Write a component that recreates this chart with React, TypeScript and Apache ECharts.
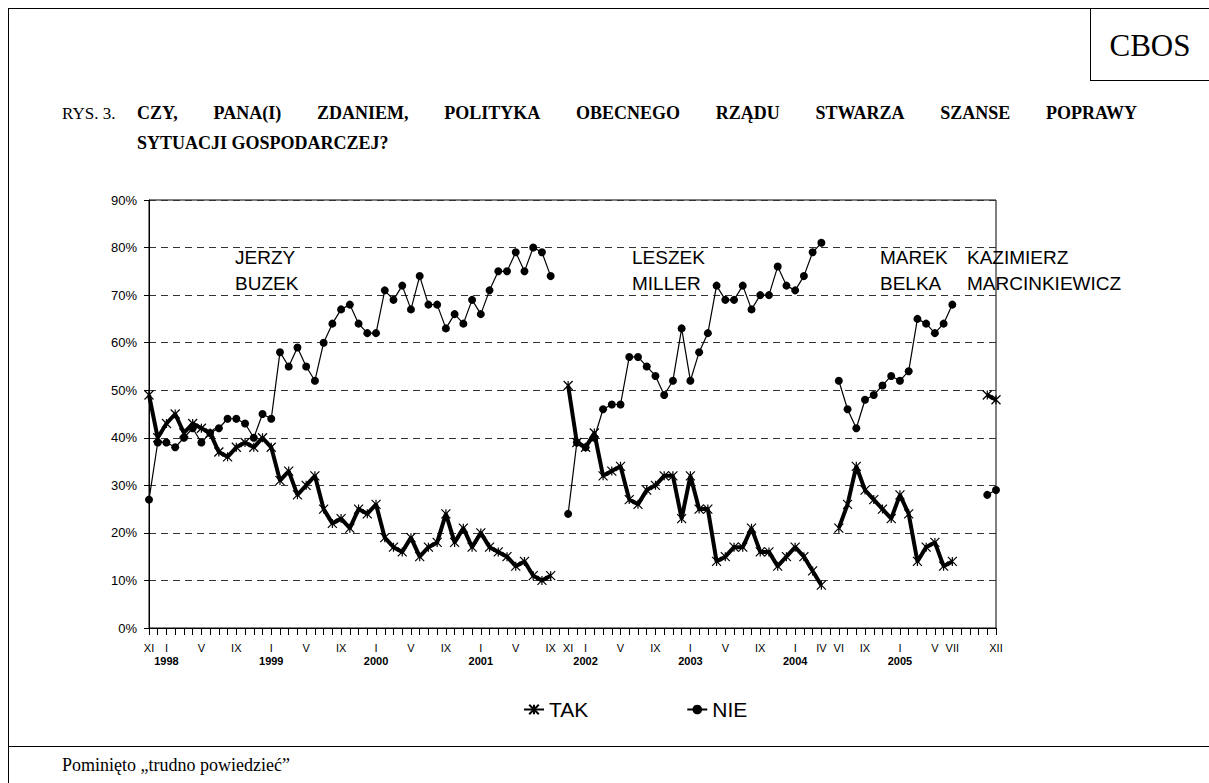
import React, { useEffect, useRef } from "react";
import * as echarts from "echarts";

// ---- data ----
const ROMAN = ["I", "II", "III", "IV", "V", "VI", "VII", "VIII", "IX", "X", "XI", "XII"];

// monthly categories XI 1997 .. XII 2005
const categories: string[] = [];
for (let y = 1997; y <= 2005; y++) {
  for (let m = 1; m <= 12; m++) {
    if (y === 1997 && m < 11) continue;
    categories.push(`${y}-${String(m).padStart(2, "0")}`);
  }
}

const labeledMonths = [
  "1997-11", "1998-01", "1998-05", "1998-09", "1999-01", "1999-05", "1999-09",
  "2000-01", "2000-05", "2000-09", "2001-01", "2001-05", "2001-09", "2001-11",
  "2002-01", "2002-05", "2002-09", "2003-01", "2003-05", "2003-09", "2004-01",
  "2004-04", "2004-06", "2004-09", "2005-01", "2005-05", "2005-07", "2005-12",
];

const yTicks = [0, 10, 20, 30, 40, 50, 60, 70, 80, 90];

// TAK (yes) – Buzek XI 1997..IX 2001, Miller XI 2001..IV 2004, Belka VI 2004..VII 2005, Marcinkiewicz XI-XII 2005
const takBuzek = [49, 40, 43, 45, 41, 43, 42, 41, 37, 36, 38, 39, 38, 40, 38, 31, 33, 28, 30, 32, 25, 22, 23, 21, 25, 24, 26, 19, 17, 16, 19, 15, 17, 18, 24, 18, 21, 17, 20, 17, 16, 15, 13, 14, 11, 10, 11];
const takMiller = [51, 39, 38, 41, 32, 33, 34, 27, 26, 29, 30, 32, 32, 23, 32, 25, 25, 14, 15, 17, 17, 21, 16, 16, 13, 15, 17, 15, 12, 9];
const takBelka = [21, 26, 34, 29, 27, 25, 23, 28, 24, 14, 17, 18, 13, 14];
const takMarcinkiewicz = [49, 48];

const nieBuzek = [27, 39, 39, 38, 40, 42, 39, 41, 42, 44, 44, 43, 40, 45, 44, 58, 55, 59, 55, 52, 60, 64, 67, 68, 64, 62, 62, 71, 69, 72, 67, 74, 68, 68, 63, 66, 64, 69, 66, 71, 75, 75, 79, 75, 80, 79, 74];
const nieMiller = [24, 39, 38, 40, 46, 47, 47, 57, 57, 55, 53, 49, 52, 63, 52, 58, 62, 72, 69, 69, 72, 67, 70, 70, 76, 72, 71, 74, 79, 81];
const nieBelka = [52, 46, 42, 48, 49, 51, 53, 52, 54, 65, 64, 62, 64, 68];
const nieMarcinkiewicz = [28, 29];

// gaps between governments (months without data)
const gapAfterBuzek = [null];
const gapAfterMiller = [null];
const gapAfterBelka = [null, null, null];

const takSeries = [...takBuzek, ...gapAfterBuzek, ...takMiller, ...gapAfterMiller, ...takBelka, ...gapAfterBelka, ...takMarcinkiewicz];
const nieSeries = [...nieBuzek, ...gapAfterBuzek, ...nieMiller, ...gapAfterMiller, ...nieBelka, ...gapAfterBelka, ...nieMarcinkiewicz];

const governmentLabels = [
  { text: "JERZY\nBUZEK", x: 235, y: 244 },
  { text: "LESZEK\nMILLER", x: 632, y: 244 },
  { text: "MAREK\nBELKA", x: 880, y: 244 },
  { text: "KAZIMIERZ\nMARCINKIEWICZ", x: 967, y: 244 },
];

const TITLE_PREFIX = "RYS. 3.";
const TITLE_LINE1 = "CZY, PANA(I) ZDANIEM, POLITYKA OBECNEGO RZĄDU STWARZA SZANSE POPRAWY";
const TITLE_LINE2 = "SYTUACJI GOSPODARCZEJ?";
const FOOTNOTE = "Pominięto „trudno powiedzieć”";

const SERIF = '"Liberation Serif", "Times New Roman", serif';
const SANS = '"Liberation Sans", Arial, sans-serif';
const STAR = "path://M0 0 L10 10 M10 0 L0 10 M5 0 L5 10";

// justify a line like a word processor: extra space goes into the word gaps
function justifiedWords(line: string, font: string, x0: number, x1: number, y: number) {
  const words = line.split(" ");
  const ctx = document.createElement("canvas").getContext("2d") as CanvasRenderingContext2D;
  ctx.font = font;
  const widths = words.map((w) => ctx.measureText(w).width);
  const total = widths.reduce((a, b) => a + b, 0);
  const gap = (x1 - x0 - total) / (words.length - 1);
  let x = x0;
  return words.map((w, i) => {
    const el = { type: "text", style: { text: w, x, y, font, fill: "#000", textVerticalAlign: "middle" } };
    x += widths[i] + gap;
    return el;
  });
}

export default function App() {
  const ref = useRef<HTMLDivElement>(null);
  useEffect(() => {
    if (!ref.current) return;
    const chart = echarts.init(ref.current, undefined, { renderer: "svg" });
    const titleFont = `bold 18px ${SERIF}`;
    const option: any = {
      animation: false,
      backgroundColor: "#fff",
      grid: { left: 149, top: 200, width: 847, height: 428, show: true, borderColor: "#000", borderWidth: 1 },
      legend: {
        left: 518,
        top: 694,
        itemGap: 98,
        itemWidth: 20,
        itemHeight: 12,
        textStyle: { fontFamily: SANS, fontSize: 21, color: "#000" },
        data: ["TAK", "NIE"],
      },
      xAxis: {
        type: "category",
        data: categories,
        boundaryGap: false,
        axisLine: { lineStyle: { color: "#000", width: 1 } },
        axisTick: { show: true, interval: 0, length: 7, lineStyle: { color: "#000" } },
        axisLabel: {
          interval: (_i: number, v: string) => labeledMonths.includes(v),
          margin: 13,
          formatter: (v: string) => {
            const [yy, mm] = v.split("-");
            const m = parseInt(mm, 10);
            return m === 1 ? `{m|${ROMAN[m - 1]}}\n{y|${yy}}` : `{m|${ROMAN[m - 1]}}`;
          },
          rich: {
            m: { fontFamily: SANS, fontSize: 11, color: "#000", lineHeight: 13 },
            y: { fontFamily: SANS, fontSize: 11, fontWeight: "bold", color: "#000", lineHeight: 13 },
          },
        },
        splitLine: { show: false },
      },
      yAxis: {
        type: "value",
        min: 0,
        max: 90,
        interval: 10,
        axisLine: { show: true, lineStyle: { color: "#000" } },
        axisTick: { show: true, length: 5, lineStyle: { color: "#000" } },
        axisLabel: {
          margin: 12,
          formatter: (v: number) => (yTicks.includes(v) ? `${v}%` : ""),
          fontFamily: SANS,
          fontSize: 13,
          color: "#000",
        },
        splitLine: { show: true, lineStyle: { color: "#333", type: [7, 5], width: 1 } },
      },
      series: [
        {
          name: "TAK",
          type: "line",
          data: takSeries,
          connectNulls: false,
          showAllSymbol: true,
          symbol: STAR,
          symbolSize: 9,
          lineStyle: { color: "#000", width: 4 },
          itemStyle: { color: "#000", borderColor: "#000", borderWidth: 1.2 },
          z: 3,
        },
        {
          name: "NIE",
          type: "line",
          data: nieSeries,
          connectNulls: false,
          showAllSymbol: true,
          symbol: "circle",
          symbolSize: 8,
          lineStyle: { color: "#000", width: 1.2 },
          itemStyle: { color: "#000" },
          z: 4,
        },
      ],
      graphic: [
        // frame lines
        { type: "line", shape: { x1: 8.5, y1: 8, x2: 8.5, y2: 783 }, style: { stroke: "#000", lineWidth: 1 } },
        { type: "line", shape: { x1: 8, y1: 8.5, x2: 1209, y2: 8.5 }, style: { stroke: "#000", lineWidth: 1 } },
        { type: "line", shape: { x1: 8, y1: 746.5, x2: 1209, y2: 746.5 }, style: { stroke: "#000", lineWidth: 1 } },
        { type: "line", shape: { x1: 1090.5, y1: 8, x2: 1090.5, y2: 80 }, style: { stroke: "#000", lineWidth: 1 } },
        { type: "line", shape: { x1: 1090, y1: 80.5, x2: 1209, y2: 80.5 }, style: { stroke: "#000", lineWidth: 1 } },
        { type: "text", style: { text: "CBOS", x: 1150, y: 45, font: `31px ${SERIF}`, fill: "#000", textAlign: "center", textVerticalAlign: "middle" } },
        { type: "text", style: { text: TITLE_PREFIX, x: 62, y: 113, font: `17px ${SERIF}`, fill: "#000", textVerticalAlign: "middle" } },
        ...justifiedWords(TITLE_LINE1, titleFont, 137, 1137, 113),
        { type: "text", style: { text: TITLE_LINE2, x: 137, y: 143, font: titleFont, fill: "#000", textVerticalAlign: "middle" } },
        { type: "text", style: { text: FOOTNOTE, x: 62, y: 765, font: `18px ${SERIF}`, fill: "#000", textVerticalAlign: "middle" } },
        ...governmentLabels.map((g) => ({
          type: "text",
          style: { text: g.text, x: g.x, y: g.y, font: `19px ${SANS}`, lineHeight: 26, fill: "#000" },
        })),
      ],
    };
    chart.setOption(option);
    return () => chart.dispose();
  }, []);
  return (
    <div
      ref={ref}
      style={{ position: "absolute", left: 0, top: 0, width: 1209, height: 783, background: "#fff" }}
    />
  );
}
